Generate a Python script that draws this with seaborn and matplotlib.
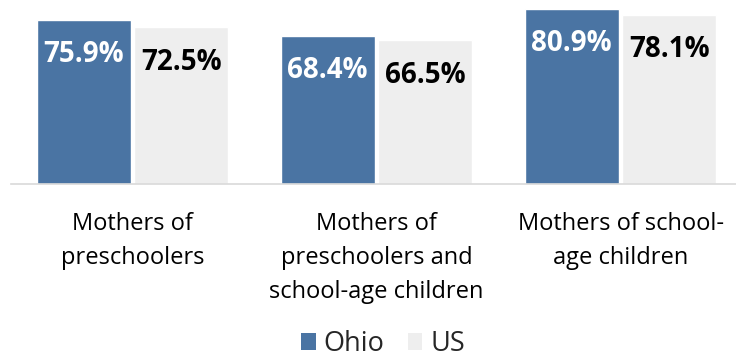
import matplotlib
matplotlib.use("Agg")
import matplotlib.pyplot as plt
from matplotlib.patches import Rectangle
import seaborn as sns
import pandas as pd

categories = [
    "Mothers of\npreschoolers",
    "Mothers of\npreschoolers and\nschool-age children",
    "Mothers of school-\nage children",
]
series_names = ["Ohio", "US"]
ohio_values = [75.9, 68.4, 80.9]
us_values = [72.5, 66.5, 78.1]

colors = {"Ohio": "#4A74A3", "US": "#EEEEEE"}
label_colors = {"Ohio": "white", "US": "black"}

df = pd.DataFrame({
    "category": categories * 2,
    "series": ["Ohio"] * 3 + ["US"] * 3,
    "value": ohio_values + us_values,
})

sns.set_theme(style="white")
plt.rcParams["font.family"] = ["Open Sans", "DejaVu Sans"]

fig = plt.figure(figsize=(7.36, 3.6), dpi=100)
ax = fig.add_axes([10.5 / 736, 176 / 360, 732 / 736, 184 / 360])

sns.barplot(data=df, x="category", y="value", hue="series",
            hue_order=series_names, palette=colors, width=0.8, gap=0.04,
            order=categories, legend=False, ax=ax, saturation=1)

ax.set_ylim(0, 85.1)
ax.set_xlim(-0.5, 2.5)

# value labels sit inside each bar, just below its top
for name, container, vals in zip(series_names, ax.containers, [ohio_values, us_values]):
    for bar, v in zip(container, vals):
        ax.annotate(f"{v:.1f}%", xy=(bar.get_x() + bar.get_width() / 2, v),
                    xytext=(0, -30.5), textcoords="offset points",
                    ha="center", va="baseline", fontsize=20, fontweight="bold",
                    color=label_colors[name])

for s in ["top", "left", "right"]:
    ax.spines[s].set_visible(False)
ax.spines["bottom"].set_color("#D9D9D9")
ax.spines["bottom"].set_linewidth(1.2)
ax.set_yticks([])
ax.set_xlabel("")
ax.set_ylabel("")
ax.tick_params(axis="x", length=0, pad=20, labelsize=17, labelcolor="black")
for lbl in ax.get_xticklabels():
    lbl.set_linespacing(1.55)

handles = [Rectangle((0, 0), 1, 1, facecolor=colors[n], edgecolor="none") for n in series_names]
fig.legend(handles, series_names, loc="center", bbox_to_anchor=(383 / 736, 16 / 360),
           ncol=2, frameon=False, fontsize=19.5, handlelength=0.55, handleheight=0.55,
           handletextpad=0.3, columnspacing=0.85, borderpad=0.1)

fig.savefig("out.png", dpi=100)
